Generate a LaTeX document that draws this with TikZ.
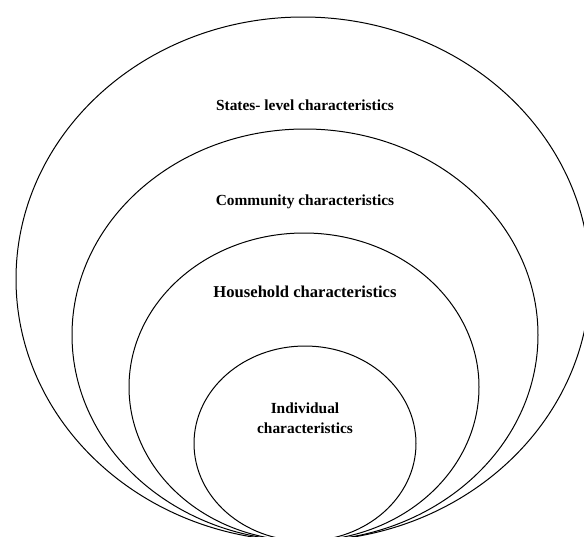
\documentclass[tikz,border=0pt]{standalone}
\usepackage{fontspec}
\setmainfont{Liberation Serif}
\begin{document}
\begin{tikzpicture}[x=1pt,y=-1pt,
  ring/.style={draw=black,line width=1pt},
  label/.style={font=\bfseries\fontsize{15.4}{20}\selectfont,align=center,inner sep=0pt}]
\useasboundingbox (0,0) rectangle (584,536);
\clip (0,0) rectangle (584,536);
% nested ellipses sharing a common bottom point just below the frame
\draw[ring] (303,279) ellipse [x radius=287, y radius=262];
\draw[ring] (305,335) ellipse [x radius=233, y radius=206];
\draw[ring] (304,387) ellipse [x radius=175, y radius=154];
\draw[ring] (305,443.5) ellipse [x radius=111, y radius=97.5];
% level labels
\node[label] (state) at (305,105) {States- level characteristics};
\node[label] (community) at (305,202) {Community characteristics};
\node[label,font=\bfseries\fontsize{16.6}{20}\selectfont] (household) at (305,292) {Household characteristics};
\node[label] (individual) at (305,418) {Individual\\characteristics};
\end{tikzpicture}
\end{document}
